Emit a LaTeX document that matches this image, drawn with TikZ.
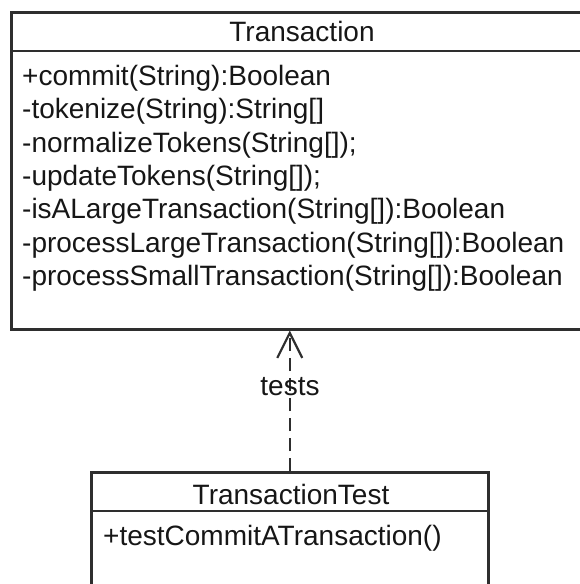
\documentclass[tikz,border=0pt]{standalone}
\usepackage{fontspec}
\setmainfont{Liberation Sans}
\usetikzlibrary{arrows.meta}
\definecolor{umlline}{HTML}{2E2E2E}
\definecolor{umltext}{HTML}{161616}
\begin{document}
\begin{tikzpicture}[x=1pt,y=-1pt,
  classbox/.style={draw=umlline, line width=2.5pt, anchor=north west, inner sep=0pt},
  divider/.style={draw=umlline, line width=2.5pt},
  umltxt/.style={text=umltext, font=\fontsize{28}{33}\selectfont, inner sep=0pt},
  classname/.style={umltxt, anchor=base},
  member/.style={umltxt, anchor=base west},
  depend/.style={draw=umlline, line width=2.2pt, dash pattern=on 13pt off 7pt,
    -{Straight Barb[length=25pt,width=25pt,line width=2.2pt]}}
]
\useasboundingbox (0,0) rectangle (579,584);

% class Transaction
\node[classbox, minimum width=584pt, minimum height=317pt] (tr) at (10,11) {};
\draw[divider] ([yshift=-40pt]tr.north west) -- ([yshift=-40pt]tr.north east);
\node[classname] (trname) at (302,41) {Transaction};
\node[member] (m1) at (22,85)  {+commit(String):Boolean};
\node[member] (m2) at (22,118) {-tokenize(String):String[]};
\node[member] (m3) at (22,152) {-normalizeTokens(String[]);};
\node[member] (m4) at (22,185) {-updateTokens(String[]);};
\node[member] (m5) at (22,218) {-isALargeTransaction(String[]):Boolean};
\node[member] (m6) at (22,252) {-processLargeTransaction(String[]):Boolean};
\node[member] (m7) at (22,285) {-processSmallTransaction(String[]):Boolean};

% class TransactionTest
\node[classbox, minimum width=397pt, minimum height=140pt] (tt) at (90,471) {};
\draw[divider] ([yshift=-40pt]tt.north west) -- ([yshift=-40pt]tt.north east);
\node[classname] (ttname) at (291,504) {TransactionTest};
\node[member] (t1) at (103,545) {+testCommitATransaction()};

% dependency
\draw[depend] (tt.north) -- (tt.north |- tr.south);
\node[classname] (lbl) at (290,395) {tests};
\end{tikzpicture}
\end{document}
